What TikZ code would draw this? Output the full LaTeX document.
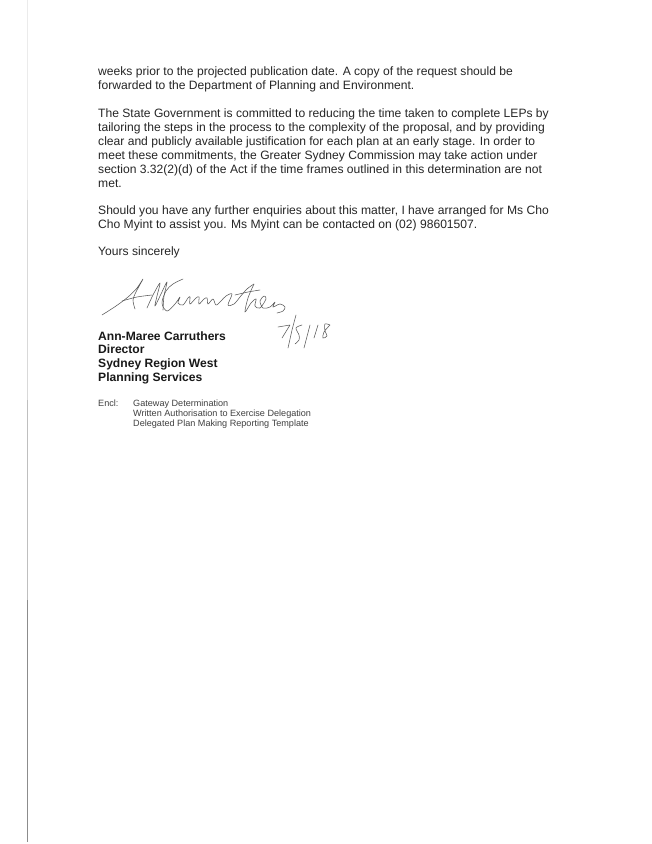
\documentclass[tikz,border=0pt]{standalone}
\usepackage{fontspec}
\setmainfont{Liberation Sans}
\tikzset{body/.style={anchor=base west,inner sep=0pt,font=\fontsize{12.1}{14}\selectfont,text=black!85},
 small/.style={anchor=base west,inner sep=0pt,font=\fontsize{9.1}{11}\selectfont,text=black!75},
 bold/.style={anchor=base west,inner sep=0pt,font=\fontsize{12.1}{14}\selectfont\bfseries,text=black!90},
 ink/.style={draw=black!65,line width=0.55pt,line cap=round,line join=round,smooth,tension=0.55}}
\begin{document}
\begin{tikzpicture}[x=1pt,y=-1pt]
\useasboundingbox (0,0) rectangle (652,844);
\fill[white] (0,0) rectangle (652,844);
\draw[black!8,line width=0.8pt] (27.8,0) -- (27.8,200);
\draw[black!15,line width=0.8pt] (27.8,200) -- (27.8,400);
\draw[black!25,line width=0.8pt] (27.8,400) -- (27.8,600);
\draw[black!45,line width=0.8pt] (27.8,600) -- (27.8,842);
\node[body] (l1) at (98,75) {weeks prior to the projected publication date. A copy of the request should be};
\node[body] (l2) at (98,89.5) {forwarded to the Department of Planning and Environment.};
\node[body] (l3) at (98,117) {The State Government is committed to reducing the time taken to complete LEPs by};
\node[body] (l4) at (98,131) {tailoring the steps in the process to the complexity of the proposal, and by providing};
\node[body] (l5) at (98,145) {clear and publicly available justification for each plan at an early stage. In order to};
\node[body] (l6) at (98,159) {meet these commitments, the Greater Sydney Commission may take action under};
\node[body] (l7) at (98,173) {section 3.32(2)(d) of the Act if the time frames outlined in this determination are not};
\node[body] (l8) at (98,187) {met.};
\node[body] (l9) at (98,214) {Should you have any further enquiries about this matter, I have arranged for Ms Cho};
\node[body] (l10) at (98,228.5) {Cho Myint to assist you. Ms Myint can be contacted on (02) 98601507.};
\node[body] (l11) at (98,255) {Yours sincerely};
\node[bold] (b1) at (98,340) {Ann-Maree Carruthers};
\node[bold] (b2) at (98,353.5) {Director};
\node[bold] (b3) at (98,367.5) {Sydney Region West};
\node[bold] (b4) at (98,381.5) {Planning Services};
\node[small] (e0) at (98,406) {Encl:};
\node[small] (e1) at (133,406) {Gateway Determination};
\node[small] (e2) at (133,416) {Written Authorisation to Exercise Delegation};
\node[small] (e3) at (133,426) {Delegated Plan Making Reporting Template};
% signature
\draw[ink] plot coordinates {(102,315) (116,306) (128,297) (137,288) (143,279) (136,292) (133,300) (135,309)};
\draw[ink] plot coordinates {(122,301) (137,297) (152,295)};
\draw[ink] plot coordinates {(147,308) (153,295) (160,283) (157,296) (155,306) (161,294) (167,282) (164,296) (163,310)};
\draw[ink] plot coordinates {(183,279) (173,284) (166,291) (162,303) (167,311) (175,304) (180,297) (178,303) (183,305) (188,298) (190,297) (190,304) (196,298) (199,297) (199,304) (204,299) (207,298) (208,304) (213,299) (216,305) (221,301) (226,296) (232,294) (228,305) (234,304) (240,297) (247,289) (254,284)};
\draw[ink] plot coordinates {(254,284) (248,298) (245,312) (251,303) (256,299) (255,306) (260,308)  (266,299) (264,296) (260,301) (263,308) (270,307) (275,302) (273,307) (280,304) (285,307) (283,311) (277,313)};
\draw[ink] plot coordinates {(235,295) (248,292) (260,290)};
% date
\draw[ink] plot[sharp plot] coordinates {(278,327) (290,325) (282,338)};
\draw[ink] plot[sharp plot] coordinates {(296,315) (292,330) (288,348)};
\draw[ink] plot coordinates {(302,325) (296,328) (299,335) (299,340) (295,344)};
\draw[ink] plot[sharp plot] coordinates {(310,325) (304,348)};
\draw[ink] plot[sharp plot] coordinates {(318,325) (314,338)};
\draw[ink] plot coordinates {(330,325) (325,324) (325,331) (327,336) (323,338) (324,332) (330,325)};
\end{tikzpicture}
\end{document}
